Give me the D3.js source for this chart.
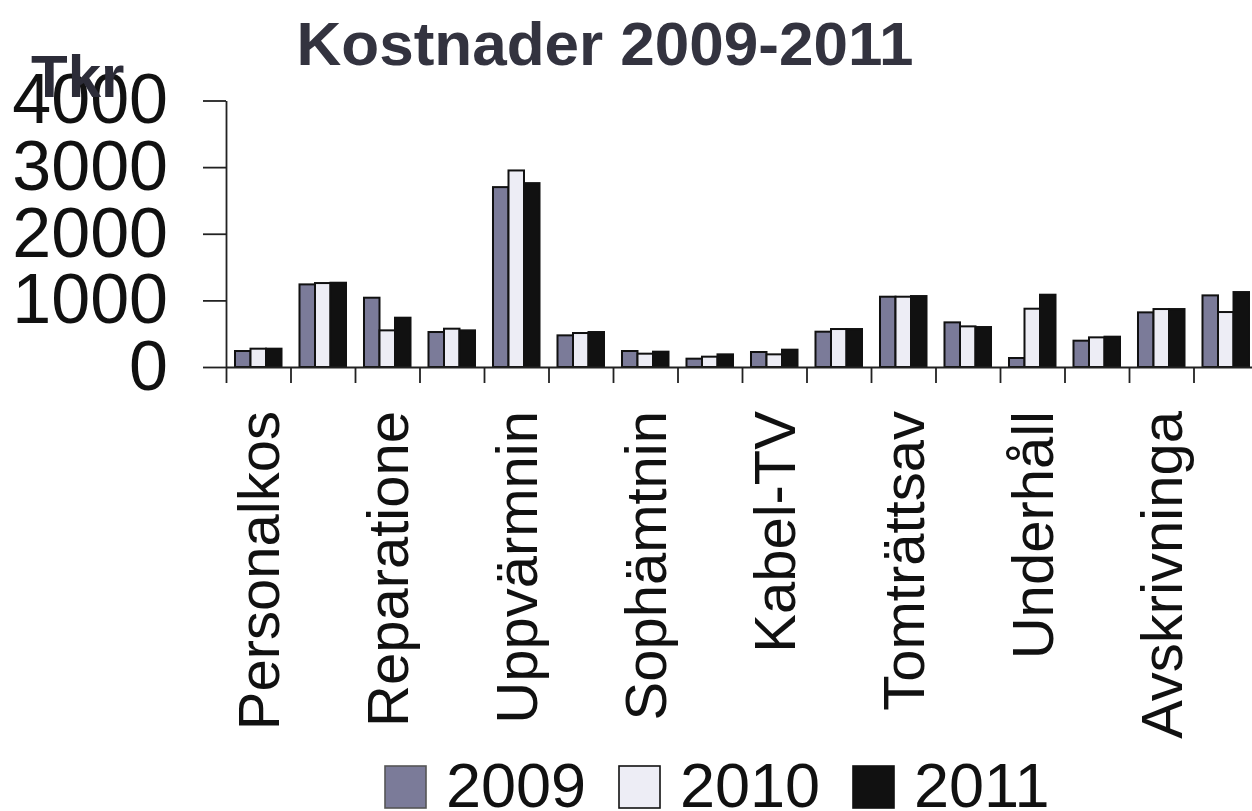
<!DOCTYPE html>
<html>
<head>
<meta charset="utf-8">
<script src="https://cdn.jsdelivr.net/npm/d3@7"></script>
<style>
  html, body { margin: 0; padding: 0; background: #ffffff; }
  svg { display: block; }
  text { font-family: "Liberation Sans", Arial, sans-serif; }
</style>
</head>
<body>
<svg id="chart" width="1252" height="811"></svg>
<script>
// ---- data ----
const categoryLabels = ["Personalkos", "", "Reparatione", "", "Uppvärmnin", "", "Sophämtnin", "",
                        "Kabel-TV", "", "Tomträttsav", "", "Underhåll", "", "Avskrivninga", ""];
const years = ["2009", "2010", "2011"];
const values2009 = [240, 1240, 1040, 525, 2700, 475, 240, 125, 225, 530, 1055, 670, 135, 395, 820, 1075];
const values2010 = [275, 1260, 550, 575, 2950, 510, 200, 155, 190, 570, 1055, 610, 875, 445, 870, 825];
const values2011 = [275, 1265, 740, 550, 2760, 525, 230, 190, 260, 570, 1065, 600, 1085, 455, 870, 1125];
const yTicks = [0, 1000, 2000, 3000, 4000];
const titleText = "Kostnader 2009-2011";
const yUnit = "Tkr";

// ---- layout ----
const svg = d3.select("#chart");
const plot = { left: 226, right: 1258, top: 100.5, bottom: 367 };
const colors = { "2009": "#7b7b99", "2010": "#ededf5", "2011": "#111111" };

const idx = d3.range(categoryLabels.length);
const series = { "2009": values2009, "2010": values2010, "2011": values2011 };

const x0 = d3.scaleBand().domain(idx).range([plot.left, plot.right]).padding(0);
const x1 = d3.scaleBand().domain(years).range([0, x0.bandwidth()]).paddingInner(0).paddingOuter(0.58);
const y = d3.scaleLinear().domain([0, 4000]).range([plot.bottom, plot.top]);
const xEdge = d3.scaleLinear().domain([0, categoryLabels.length]).range([plot.left, plot.right]);

// ---- bars ----
const groups = svg.append("g").selectAll("g")
  .data(idx).join("g")
  .attr("transform", i => `translate(${x0(i)},0)`);

groups.selectAll("rect")
  .data(i => years.map(yr => ({ yr, v: series[yr][i] })))
  .join("rect")
  .attr("x", d => x1(d.yr))
  .attr("width", x1.bandwidth())
  .attr("y", d => y(d.v))
  .attr("height", d => y(0) - y(d.v))
  .attr("fill", d => colors[d.yr])
  .attr("stroke", "#111")
  .attr("stroke-width", 2);

// ---- y axis ----
const yAxis = svg.append("g")
  .attr("transform", `translate(${plot.left},0)`)
  .call(d3.axisLeft(y).tickValues(yTicks).tickSize(23).tickPadding(35).tickSizeOuter(0).tickFormat(d3.format("d")));
yAxis.selectAll("text").attr("font-size", 70).attr("fill", "#111")
  .style("font-family", '"Liberation Sans", Arial, sans-serif');
yAxis.selectAll("line, path").attr("stroke", "#222").attr("stroke-width", 1.8);

// ---- x axis (ticks between categories) ----
const xAxis = svg.append("g")
  .attr("transform", `translate(0,${plot.bottom})`)
  .call(d3.axisBottom(xEdge).tickValues(d3.range(0, categoryLabels.length + 1)).tickSize(16).tickSizeOuter(0).tickFormat(""));
xAxis.selectAll("line, path").attr("stroke", "#222").attr("stroke-width", 1.8);

// category labels
svg.append("g").selectAll("text")
  .data(idx.filter(i => categoryLabels[i] !== ""))
  .join("text")
  .attr("transform", i => `translate(${x0(i) + x0.bandwidth() / 2},${plot.bottom + 44}) rotate(-90)`)
  .attr("text-anchor", "end")
  .attr("dy", "0.36em")
  .attr("font-size", 58)
  .attr("fill", "#111")
  .text(i => categoryLabels[i]);

// ---- title and unit ----
svg.append("text")
  .attr("x", 605).attr("y", 65)
  .attr("text-anchor", "middle")
  .attr("font-size", 62).attr("font-weight", "bold")
  .attr("fill", "#33333f")
  .text(titleText);

svg.append("text")
  .attr("x", 31).attr("y", 97)
  .attr("font-size", 60).attr("font-weight", "bold")
  .attr("fill", "#2c2c38")
  .text(yUnit);

// ---- legend ----
const legend = svg.append("g").selectAll("g")
  .data(years).join("g")
  .attr("transform", (d, i) => `translate(${385 + i * 234},0)`);
legend.append("rect")
  .attr("x", 0).attr("y", 766)
  .attr("width", 41).attr("height", 42)
  .attr("fill", d => colors[d])
  .attr("stroke", d => d === "2009" ? "#555" : "#111")
  .attr("stroke-width", 1.6);
legend.append("text")
  .attr("x", 61).attr("y", 807)
  .attr("font-size", 63)
  .attr("fill", "#111")
  .text(d => d);
</script>
</body>
</html>
